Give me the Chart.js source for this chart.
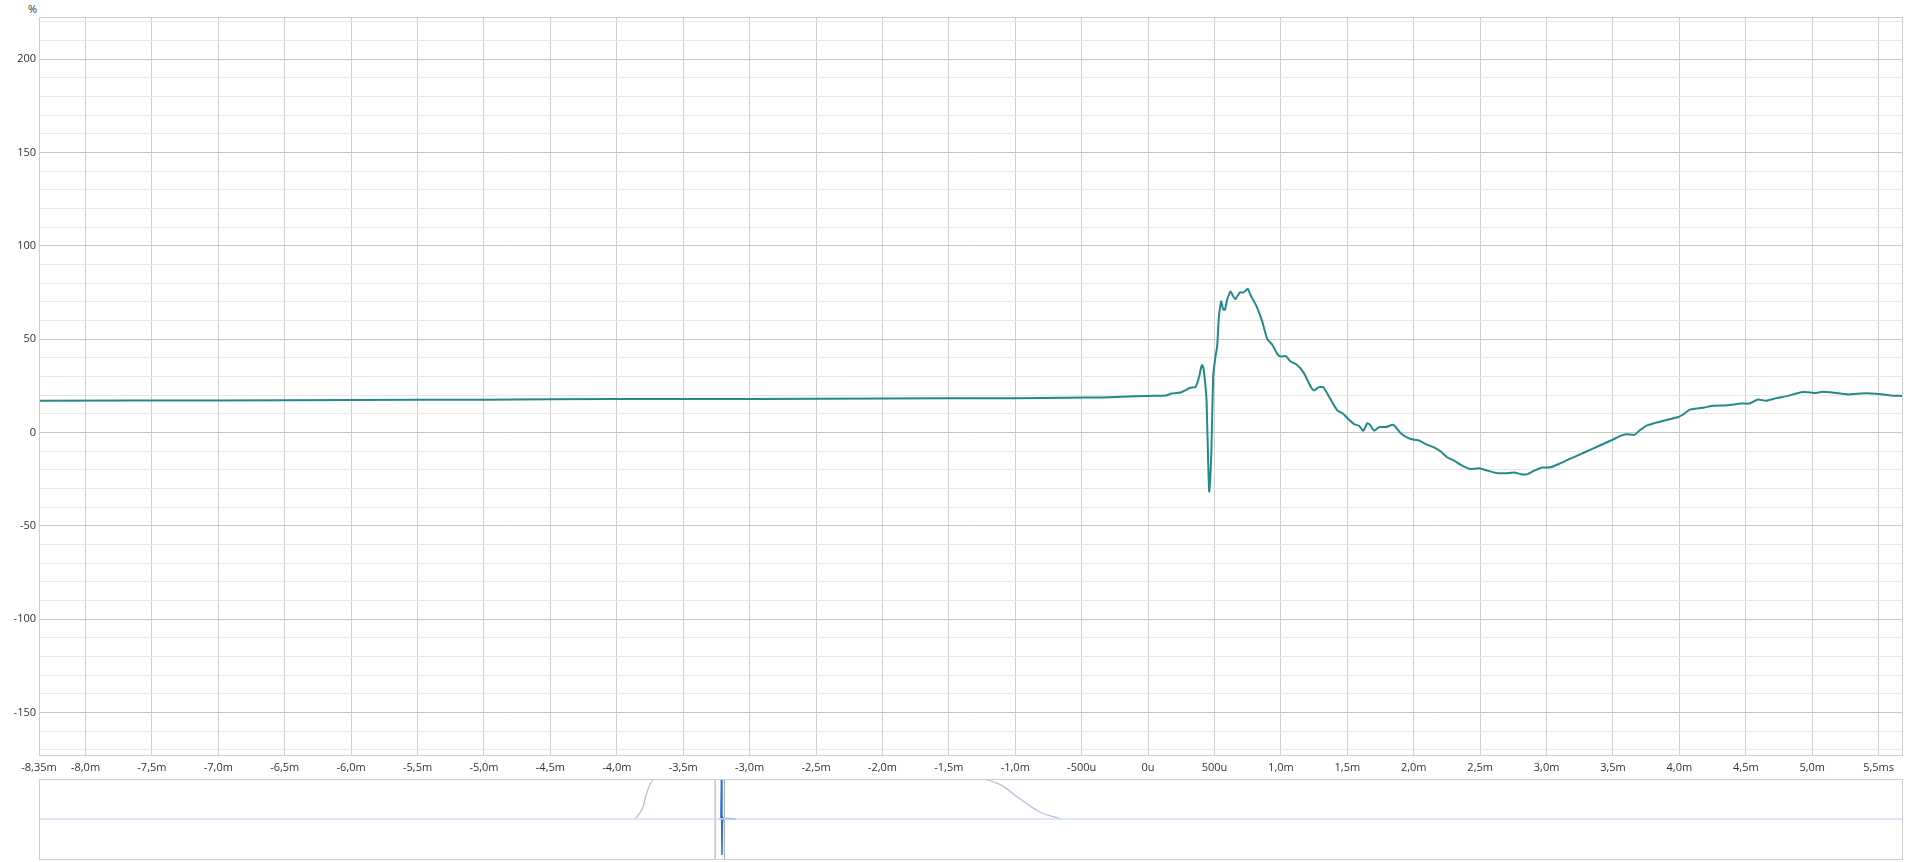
<!DOCTYPE html>
<html>
<head>
<meta charset="utf-8">
<script src="https://cdn.jsdelivr.net/npm/chart.js@4/dist/chart.umd.min.js"></script>
<style>
  html, body { margin: 0; padding: 0; background: #fff; }
  body { width: 1920px; height: 862px; position: relative; overflow: hidden; font-family: 'Open Sans', sans-serif; }
  #unitLabel { position: absolute; left: 28px; top: 1px; font-size: 11px; color: #333; }
  #mainWrap { position: absolute; left: 0; top: 0; width: 1920px; height: 778px; }
  #overWrap { position: absolute; left: 0; top: 775px; width: 1920px; height: 87px; }
</style>
</head>
<body>
<div id="unitLabel">%</div>
<div id="mainWrap"><canvas id="mainChart"></canvas></div>
<div id="overWrap"><canvas id="overChart"></canvas></div>

<script>
// Step response, time in ms, level in %
const timeMs = [
  -8.35, -7.0, -6.0, -5.0, -4.0, -3.0, -2.0, -1.0, -0.6, -0.36, -0.2, 0, 0.08, 0.143, 0.168, 0.244, 0.28, 0.319, 0.357,
  0.385, 0.398, 0.407, 0.416, 0.425, 0.44, 0.452, 0.46, 0.468, 0.477, 0.49, 0.508, 0.52, 0.533, 0.55, 0.565, 0.578,
  0.595, 0.62, 0.64, 0.658, 0.69, 0.72, 0.75, 0.77, 0.817, 0.859, 0.897, 0.935, 0.972, 0.997, 1.035, 1.073, 1.123,
  1.173, 1.224, 1.249, 1.286, 1.319, 1.362, 1.425, 1.462, 1.513, 1.55, 1.588, 1.62, 1.65, 1.671, 1.701, 1.739, 1.789,
  1.847, 1.902, 1.952, 2.003, 2.04, 2.09, 2.153, 2.204, 2.254, 2.304, 2.354, 2.405, 2.43, 2.492, 2.555, 2.631, 2.694,
  2.756, 2.807, 2.857, 2.907, 2.97, 3.033, 3.095, 3.171, 3.284, 3.397, 3.497, 3.548, 3.598, 3.661, 3.698, 3.749,
  3.812, 3.887, 3.987, 4.025, 4.075, 4.138, 4.188, 4.251, 4.364, 4.465, 4.528, 4.59, 4.653, 4.729, 4.817, 4.917,
  4.967, 5.018, 5.08, 5.168, 5.269, 5.369, 5.445, 5.52, 5.595, 5.676
];
const levelPct = [
  17.0, 17.2, 17.4, 17.6, 17.9, 18.0, 18.2, 18.4, 18.6, 18.8, 19.1, 19.6, 19.7, 20.0, 20.7, 21.4, 22.6, 24.0, 24.3,
  30.0, 34.5, 36.2, 34.8, 30.0, 17.5, -15.0, -31.6, -25.0, -9.3, 30.0, 41.0, 46.0, 62.0, 70.2, 66.0, 65.7,
  71.0, 75.5, 73.0, 71.4, 75.0, 75.0, 77.0, 73.8, 67.5, 59.5, 50.0, 47.0, 42.1, 40.7, 41.0, 38.0, 36.2,
  31.8, 24.6, 22.5, 24.3, 24.3, 19.3, 11.8, 10.4, 6.8, 4.5, 3.6, 0.9, 5.0, 4.1, 0.9, 2.9, 2.9,
  4.1, -0.4, -2.7, -3.9, -4.3, -6.25, -8.0, -10.2, -13.4, -15.0, -17.3, -19.1, -19.6, -19.1, -20.4, -21.8, -21.8,
  -21.4, -22.3, -22.3, -20.4, -18.75, -18.6, -16.8, -14.3, -10.7, -7.1, -3.9, -2.1, -0.9, -1.25, 0.9, 3.6,
  5.0, 6.4, 8.2, 9.5, 12.1, 12.9, 13.4, 14.3, 14.6, 15.5, 15.5, 17.7, 17.0, 18.4, 19.6, 21.6,
  21.6, 21.1, 21.8, 21.25, 20.4, 20.9, 20.9, 20.5, 19.8, 19.6
];

const xTickValues = [-8.35, -8.0, -7.5, -7.0, -6.5, -6.0, -5.5, -5.0, -4.5, -4.0, -3.5, -3.0, -2.5, -2.0, -1.5, -1.0, -0.5, 0, 0.5, 1.0, 1.5, 2.0, 2.5, 3.0, 3.5, 4.0, 4.5, 5.0, 5.5];
const xTickLabels = ['-8,35m', '-8,0m', '-7,5m', '-7,0m', '-6,5m', '-6,0m', '-5,5m', '-5,0m', '-4,5m', '-4,0m', '-3,5m', '-3,0m', '-2,5m', '-2,0m', '-1,5m', '-1,0m', '-500u', '0u', '500u', '1,0m', '1,5m', '2,0m', '2,5m', '3,0m', '3,5m', '4,0m', '4,5m', '5,0m', '5,5ms'];
const yTickLabels = [-150, -100, -50, 0, 50, 100, 150, 200];

// Overview strip (position in % of recording, normalised amplitude)
const winX = [32.0, 32.36, 32.62, 32.84, 33.07, 50.52, 51.59, 52.67, 53.74, 54.9];
const winY = [0, 0.23, 0.65, 0.9, 1.0, 1.0, 0.86, 0.5, 0.17, 0];
const impX = [36.5, 36.6, 36.63, 36.66, 36.69, 36.75, 36.9, 37.4];
const impY = [0, 0, 1.0, -0.9, 0.04, -0.02, 0.01, 0];
const selLeft = 36.29;
const selRight = 36.79;

Chart.defaults.font.family = "'Open Sans', 'Noto Sans', sans-serif";
Chart.defaults.font.size = 11;
Chart.defaults.color = '#333333';

const frame = {
  id: 'frame',
  afterDraw(chart) {
    const a = chart.chartArea, ctx = chart.ctx;
    ctx.save();
    ctx.strokeStyle = '#cdcdcd';
    ctx.lineWidth = 1;
    ctx.strokeRect(Math.round(a.left) + 0.5, Math.round(a.top) + 0.5, Math.round(a.right - a.left), Math.round(a.bottom - a.top));
    ctx.restore();
  }
};

new Chart(document.getElementById('mainChart'), {
  type: 'line',
  data: {
    datasets: [{
      data: timeMs.map((t, i) => ({ x: t, y: levelPct[i] })),
      borderColor: '#23898a',
      borderWidth: 2,
      pointRadius: 0,
      tension: 0.15,
      fill: false
    }]
  },
  options: {
    responsive: true,
    maintainAspectRatio: false,
    animation: false,
    layout: { padding: { top: 17, right: 18, left: 0, bottom: 0 } },
    plugins: { legend: { display: false }, tooltip: { enabled: false } },
    scales: {
      x: {
        type: 'linear',
        min: -8.35,
        max: 5.676,
        afterBuildTicks: s => { s.ticks = xTickValues.map(v => ({ value: v })); },
        afterFit: s => { s.height = 23; },
        ticks: {
          autoSkip: false, maxRotation: 0, padding: 6,
          callback: (v, i) => xTickLabels[i]
        },
        grid: { color: '#cfcfcf', drawTicks: false },
        border: { display: false }
      },
      y: {
        min: -172.7,
        max: 222.5,
        afterBuildTicks: s => {
          const t = [];
          for (let v = -170; v <= 220; v += 10) t.push({ value: v });
          s.ticks = t;
        },
        afterFit: s => { s.width = 39; },
        ticks: {
          autoSkip: false, padding: 3,
          callback: v => yTickLabels.includes(v) ? String(v) : ''
        },
        grid: {
          drawTicks: false,
          color: c => (c.tick && c.tick.value % 50 === 0) ? '#c9c9c9' : '#e7e7e7'
        },
        border: { display: false }
      }
    }
  },
  plugins: [frame]
});

new Chart(document.getElementById('overChart'), {
  type: 'line',
  data: {
    datasets: [
      { data: [{ x: 0, y: 0 }, { x: 100, y: 0 }], borderColor: '#cfdff2', borderWidth: 1.5, pointRadius: 0 },
      { data: winX.map((x, i) => ({ x, y: winY[i] })), borderColor: '#b8b8dc', borderWidth: 1.2, pointRadius: 0, tension: 0.3 },
      { data: [{ x: selLeft, y: -1 }, { x: selLeft, y: 1 }], borderColor: '#a6a6a6', borderWidth: 1, pointRadius: 0 },
      { data: [{ x: selRight, y: -1 }, { x: selRight, y: 1 }], borderColor: '#a6a6a6', borderWidth: 1, pointRadius: 0 },
      { data: impX.map((x, i) => ({ x, y: impY[i] })), borderColor: '#2f6fcf', borderWidth: 1.5, pointRadius: 0 }
    ]
  },
  options: {
    responsive: true,
    maintainAspectRatio: false,
    animation: false,
    layout: { padding: { top: 4, right: 18, left: 39, bottom: 3 } },
    plugins: { legend: { display: false }, tooltip: { enabled: false } },
    scales: {
      x: { type: 'linear', min: 0, max: 100, display: false },
      y: { min: -1, max: 1, display: false }
    }
  },
  plugins: [frame]
});
</script>
</body>
</html>
